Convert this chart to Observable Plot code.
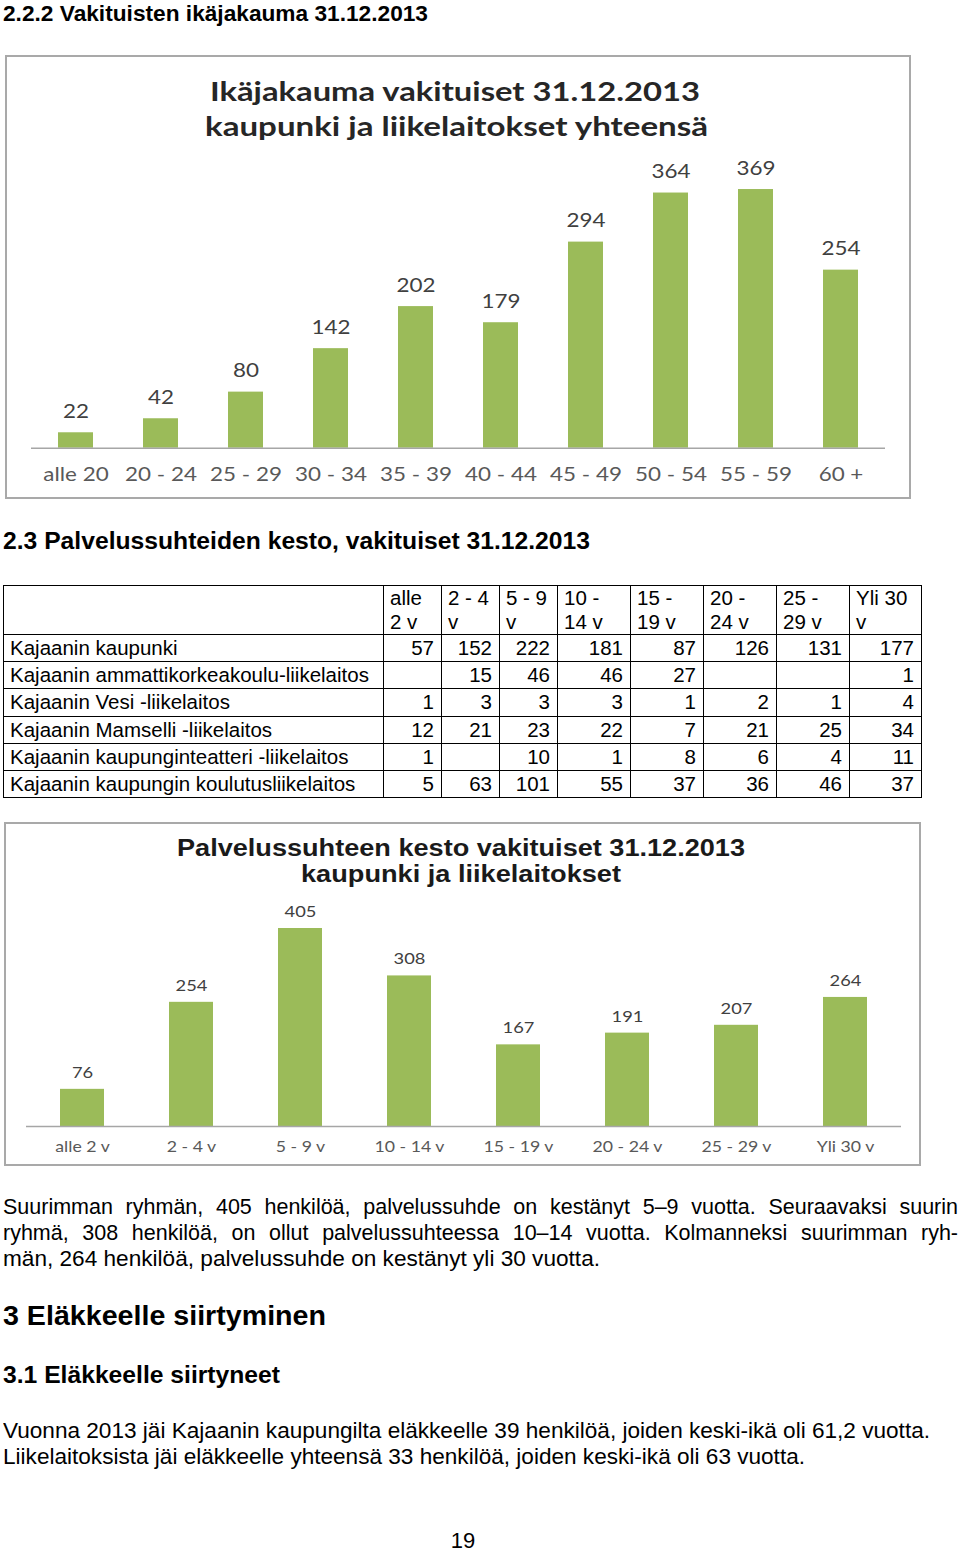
<!DOCTYPE html>
<html>
<head>
<meta charset="utf-8">
<script src="https://cdn.jsdelivr.net/npm/d3@7"></script>
<script src="https://cdn.jsdelivr.net/npm/@observablehq/plot@0.6"></script>
<style>
  html, body { margin: 0; padding: 0; background: #fff; }
  #page { position: relative; width: 960px; height: 1553px; overflow: hidden; background: #fff; font-family: "Liberation Sans", Arial, sans-serif; color: #000; }
  .frame { position: absolute; box-sizing: border-box; border: 2px solid #a9a9a9; background: #fff; }
  .plotbox { position: absolute; }
  table.data { position: absolute; left: 3px; top: 585px; border-collapse: collapse; table-layout: fixed; width: 918px; font-family: "Liberation Sans", Arial, sans-serif; font-size: 20.5px; }
  table.data td { border: 1px solid #000; padding: 0 6px; white-space: nowrap; overflow: visible; }
  table.data tr.head td { height: 48px; line-height: 24px; vertical-align: top; white-space: pre; }
  table.data tr.row td { height: 26.2px; line-height: 26px; vertical-align: middle; }
  table.data td.num { text-align: right; padding-right: 7px; }
  .just { position: absolute; left: 3px; width: 955px; font-size: 21.5px; line-height: 21.5px; white-space: nowrap; text-align: justify; text-align-last: justify; }
</style>
</head>
<body>
<div id="page"></div>
<script>
// ---------- data ----------
const ageCategories = ["alle 20", "20 - 24", "25 - 29", "30 - 34", "35 - 39", "40 - 44", "45 - 49", "50 - 54", "55 - 59", "60 +"];
const ageValues = [22, 42, 80, 142, 202, 179, 294, 364, 369, 254];

const tenureCategories = ["alle 2 v", "2 - 4 v", "5 - 9 v", "10 - 14 v", "15 - 19 v", "20 - 24 v", "25 - 29 v", "Yli 30 v"];
const tenureValues = [76, 254, 405, 308, 167, 191, 207, 264];

const tableHeaders = ["alle\n2 v", "2 - 4\nv", "5 - 9\nv", "10 -\n14 v", "15 -\n19 v", "20 -\n24 v", "25 -\n29 v", "Yli 30\nv"];
const tableUnits = [
  "Kajaanin kaupunki",
  "Kajaanin ammattikorkeakoulu-liikelaitos",
  "Kajaanin Vesi -liikelaitos",
  "Kajaanin Mamselli -liikelaitos",
  "Kajaanin kaupunginteatteri -liikelaitos",
  "Kajaanin kaupungin koulutusliikelaitos"
];
const tableRows = [
  [57, 152, 222, 181, 87, 126, 131, 177],
  [null, 15, 46, 46, 27, null, null, 1],
  [1, 3, 3, 3, 1, 2, 1, 4],
  [12, 21, 23, 22, 7, 21, 25, 34],
  [1, null, 10, 1, 8, 6, 4, 11],
  [5, 63, 101, 55, 37, 36, 46, 37]
];

const heading1 = "2.2.2 Vakituisten ikäjakauma 31.12.2013";
const heading2 = "2.3 Palvelussuhteiden kesto, vakituiset 31.12.2013";
const chart1Title = ["Ikäjakauma vakituiset 31.12.2013", "kaupunki ja liikelaitokset yhteensä"];
const chart2Title = ["Palvelussuhteen kesto vakituiset 31.12.2013", "kaupunki ja liikelaitokset"];
const para1 = [
  "Suurimman ryhmän, 405 henkilöä, palvelussuhde on kestänyt 5–9 vuotta. Seuraavaksi suurin",
  "ryhmä, 308 henkilöä, on ollut palvelussuhteessa 10–14 vuotta. Kolmanneksi suurimman ryh-",
  "män, 264 henkilöä, palvelussuhde on kestänyt yli 30 vuotta."
];
const heading3 = "3 Eläkkeelle siirtyminen";
const heading31 = "3.1 Eläkkeelle siirtyneet";
const para2 = [
  "Vuonna 2013 jäi Kajaanin kaupungilta eläkkeelle 39 henkilöä, joiden keski-ikä oli 61,2 vuotta.",
  "Liikelaitoksista jäi eläkkeelle yhteensä 33 henkilöä, joiden keski-ikä oli 63 vuotta."
];
const pageNumber = "19";

// ---------- helpers ----------
const page = document.getElementById("page");

function place(text, o) {
  const el = document.createElement("div");
  el.textContent = text;
  Object.assign(el.style, {
    position: "absolute", whiteSpace: "pre",
    fontSize: o.size + "px", lineHeight: o.size + "px",
    fontWeight: o.weight || "normal",
    fontFamily: o.family || '"Liberation Sans", Arial, sans-serif',
    color: o.color || "#000", left: "0px", top: "0px"
  });
  page.appendChild(el);
  const w = el.getBoundingClientRect().width;
  const s = o.target ? o.target / w : 1;
  const fw = w * s;
  const x = o.cx != null ? o.cx - fw / 2 : o.left;
  el.style.left = x + "px";
  el.style.top = (o.cy - o.size * 0.5 + (o.nudge || 0)) + "px";
  el.style.transformOrigin = "0 0";
  el.style.transform = `scaleX(${s})`;
  return el;
}

function stretchText(svg, k) {
  svg.querySelectorAll("text").forEach(t => {
    if (t.querySelector("tspan")) return;
    const w = t.getComputedTextLength();
    t.setAttribute("textLength", w * k);
    t.setAttribute("lengthAdjust", "spacingAndGlyphs");
  });
}

// ---------- headings ----------
place(heading1, {left: 3, cy: 13, size: 22.5, weight: "bold", target: 425, nudge: 1});

// ---------- chart 1 ----------
const f1 = document.createElement("div");
f1.className = "frame";
Object.assign(f1.style, {left: "5px", top: "55px", width: "906px", height: "444px"});
page.appendChild(f1);

place(chart1Title[0], {cx: 455, cy: 90, size: 27, weight: "bold", family: "Lato, sans-serif", color: "#262626", target: 490});
place(chart1Title[1], {cx: 456, cy: 125, size: 27, weight: "bold", family: "Lato, sans-serif", color: "#262626", target: 503});

const d1 = ageCategories.map((c, i) => ({c, v: ageValues[i]}));
const chart1 = Plot.plot({
  width: 900, height: 350,
  marginTop: 27.3, marginBottom: 42.3, marginLeft: 26, marginRight: 20,
  style: {fontFamily: "Lato, sans-serif", background: "transparent", overflow: "visible"},
  x: {domain: ageCategories, paddingInner: 0.59, paddingOuter: 0.295, label: null},
  y: {domain: [0, 400], axis: null},
  marks: [
    Plot.barY(d1, {x: "c", y: "v", fill: "#9bbb59"}),
    Plot.ruleY([0], {stroke: "#a6a6a6", strokeWidth: 1.5}),
    Plot.text(d1, {x: "c", y: "v", text: d => String(d.v), dy: -15, lineAnchor: "bottom", fontSize: 19, fill: "#404040"}),
    Plot.axisX({tickSize: 0, tickPadding: 19, fontSize: 19, color: "#595959", label: null})
  ]
});
const b1 = document.createElement("div");
b1.className = "plotbox";
Object.assign(b1.style, {left: "5px", top: "140px"});
b1.appendChild(chart1);
page.appendChild(b1);
stretchText(chart1, 1.18);

// ---------- heading 2 ----------
place(heading2, {left: 3, cy: 541, size: 23.5, weight: "bold", target: 587, nudge: 1});

// ---------- table ----------
const table = document.createElement("table");
table.className = "data";
const cg = document.createElement("colgroup");
[380, 58, 58, 58, 73, 73, 73, 73, 72].forEach(w => {
  const c = document.createElement("col"); c.style.width = w + "px"; cg.appendChild(c);
});
table.appendChild(cg);
const hr = document.createElement("tr"); hr.className = "head";
hr.appendChild(document.createElement("td"));
tableHeaders.forEach(h => { const td = document.createElement("td"); td.textContent = h; hr.appendChild(td); });
table.appendChild(hr);
tableUnits.forEach((u, i) => {
  const tr = document.createElement("tr"); tr.className = "row";
  const td0 = document.createElement("td"); td0.textContent = u; tr.appendChild(td0);
  tableRows[i].forEach(v => {
    const td = document.createElement("td"); td.className = "num";
    td.textContent = v == null ? "" : String(v);
    tr.appendChild(td);
  });
  table.appendChild(tr);
});
page.appendChild(table);

// ---------- chart 2 ----------
const f2 = document.createElement("div");
f2.className = "frame";
Object.assign(f2.style, {left: "4px", top: "822px", width: "917px", height: "344px"});
page.appendChild(f2);

place(chart2Title[0], {cx: 461, cy: 847, size: 23, weight: "bold", color: "#1a1a1a", target: 568, nudge: 1});
place(chart2Title[1], {cx: 461, cy: 873, size: 23, weight: "bold", color: "#1a1a1a", target: 320, nudge: 1});

const d2 = tenureCategories.map((c, i) => ({c, v: tenureValues[i]}));
const chart2 = Plot.plot({
  width: 910, height: 282,
  marginTop: 26, marginBottom: 36, marginLeft: 21, marginRight: 14,
  style: {fontFamily: "Lato, sans-serif", background: "transparent", overflow: "visible"},
  x: {domain: tenureCategories, paddingInner: 0.6, paddingOuter: 0.3, label: null},
  y: {domain: [0, 450], axis: null},
  marks: [
    Plot.barY(d2, {x: "c", y: "v", fill: "#9bbb59"}),
    Plot.ruleY([0], {stroke: "#a6a6a6", strokeWidth: 1.5}),
    Plot.text(d2, {x: "c", y: "v", text: d => String(d.v), dy: -11.5, lineAnchor: "bottom", fontSize: 15.5, fill: "#404040"}),
    Plot.axisX({tickSize: 0, tickPadding: 14.5, fontSize: 15, color: "#595959", label: null})
  ]
});
const b2 = document.createElement("div");
b2.className = "plotbox";
Object.assign(b2.style, {left: "5px", top: "880px"});
b2.appendChild(chart2);
page.appendChild(b2);
stretchText(chart2, 1.18);

// ---------- body text ----------
[0, 1].forEach(i => {
  const d = document.createElement("div");
  d.className = "just";
  d.textContent = para1[i];
  d.style.top = ([1206, 1232][i] - 10.75 + 1.5) + "px";
  page.appendChild(d);
});
place(para1[2], {left: 3, cy: 1258, size: 21.5, target: 597, nudge: 1.5});
place(heading3, {left: 3, cy: 1315, size: 28, weight: "bold", target: 323, nudge: 1});
place(heading31, {left: 3, cy: 1374, size: 24, weight: "bold", target: 277, nudge: 1});
place(para2[0], {left: 3, cy: 1430, size: 21.5, target: 927, nudge: 1.5});
place(para2[1], {left: 3, cy: 1456, size: 21.5, target: 802, nudge: 1.5});
place(pageNumber, {cx: 463, cy: 1540, size: 22, nudge: 1});
</script>
</body>
</html>
